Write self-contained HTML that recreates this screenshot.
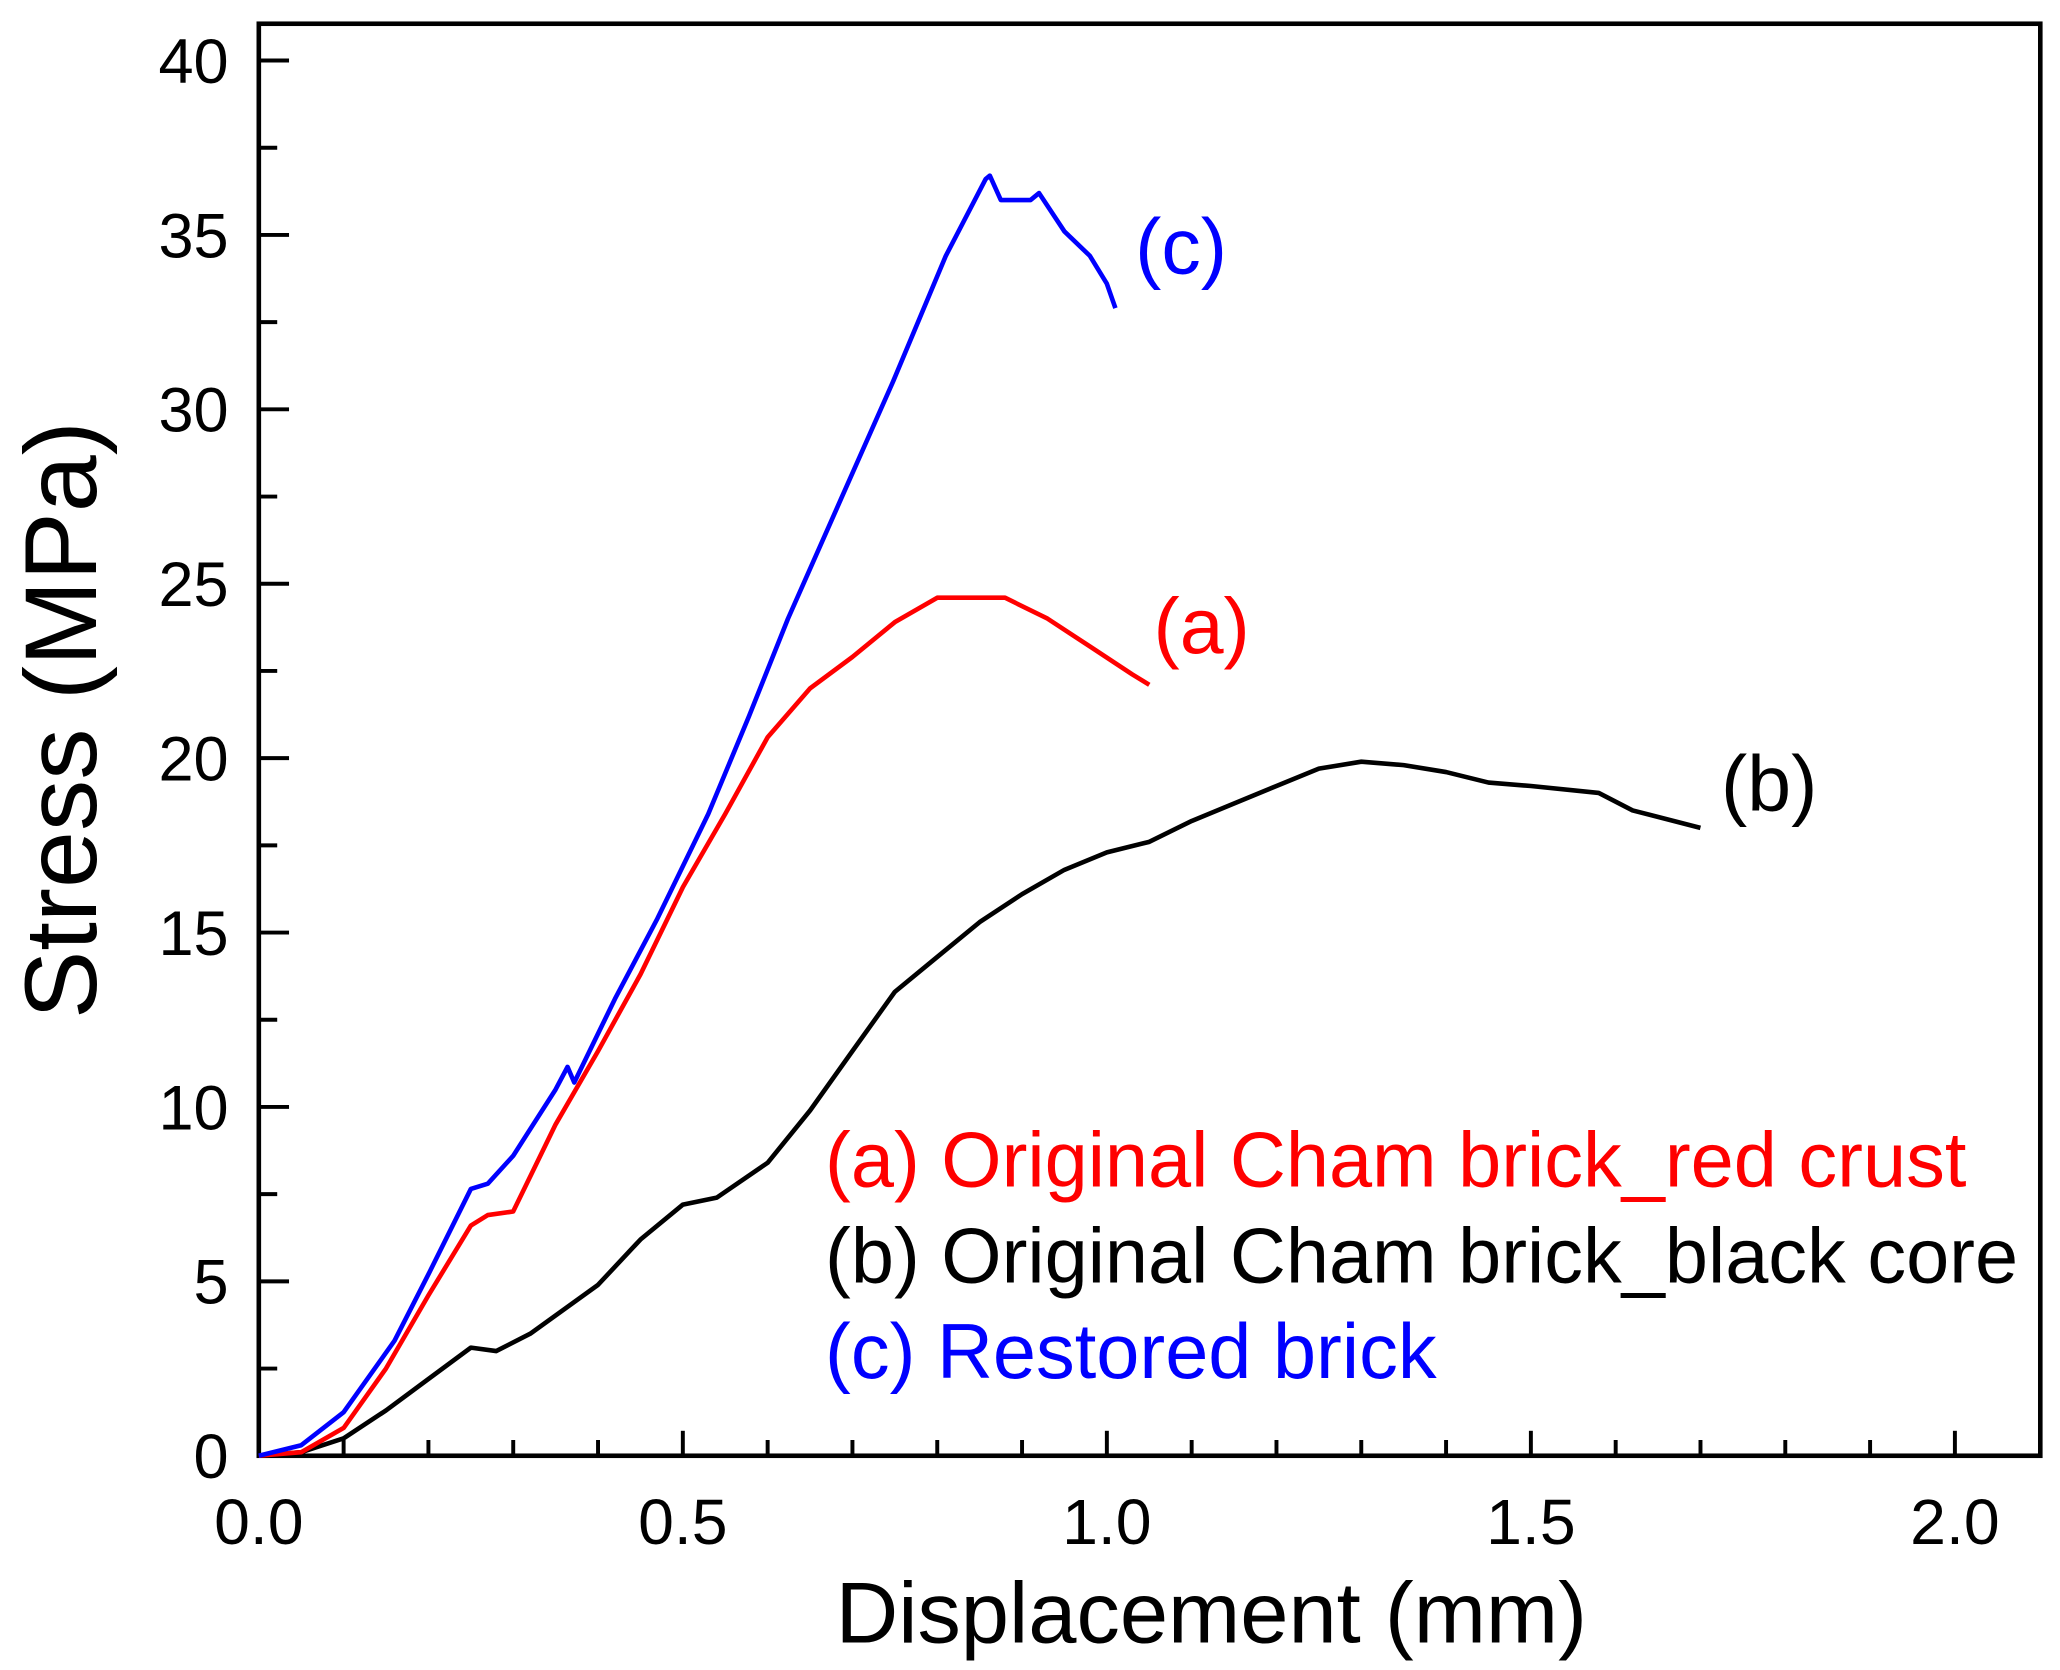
<!DOCTYPE html>
<html><head><meta charset="utf-8"><style>
html,body{margin:0;padding:0;background:#fff;}
svg{display:block;font-family:"Liberation Sans",Arial,sans-serif;}
</style></head><body>
<svg id="chart" width="2060" height="1670" viewBox="0 0 1568 1271" xmlns="http://www.w3.org/2000/svg">
<rect width="1568" height="1271" fill="#fff"/>
<g id="axes"></g>
<g id="series"></g>
<text x="922" y="1250" font-size="66" text-anchor="middle">Displacement (mm)</text>
<text transform="translate(73,548) rotate(-90)" font-size="78" text-anchor="middle">Stress (MPa)</text>
<text x="864" y="208" font-size="60" fill="#0000ff">(c)</text>
<text x="878" y="497" font-size="60" fill="#ff0000">(a)</text>
<text x="1310" y="617" font-size="60" fill="#000">(b)</text>
<text x="628" y="903" font-size="59" fill="#ff0000">(a) Original Cham brick_red crust</text>
<text x="628" y="976" font-size="59" fill="#000">(b) Original Cham brick_black core</text>
<text x="628" y="1049" font-size="59" fill="#0000ff">(c) Restored brick</text>
</svg>
<script>
const xTicks=[0,0.5,1.0,1.5,2.0];
const xTickLabels=["0.0","0.5","1.0","1.5","2.0"];
const yTicks=[0,5,10,15,20,25,30,35,40];
const yTickLabels=["0","5","10","15","20","25","30","35","40"];
const aX=[0,0.05,0.1,0.15,0.2,0.25,0.27,0.3,0.35,0.4,0.45,0.5,0.55,0.6,0.65,0.7,0.75,0.8,0.88,0.93,0.98,1.03,1.05];
const aY=[0,0.1,0.8,2.5,4.6,6.6,6.9,7.0,9.5,11.6,13.8,16.3,18.4,20.6,22,22.9,23.9,24.6,24.6,24,23.2,22.4,22.1];
const bX=[0,0.05,0.1,0.15,0.2,0.25,0.28,0.32,0.4,0.45,0.5,0.54,0.6,0.65,0.7,0.75,0.8,0.85,0.9,0.95,1.0,1.05,1.1,1.15,1.2,1.25,1.3,1.35,1.4,1.45,1.5,1.58,1.62,1.7];
const bY=[0,0.1,0.5,1.3,2.2,3.1,3.0,3.5,4.9,6.2,7.2,7.4,8.4,9.9,11.6,13.3,14.3,15.3,16.1,16.8,17.3,17.6,18.2,18.7,19.2,19.7,19.9,19.8,19.6,19.3,19.2,19.0,18.5,18.0];
const cX=[0,0.05,0.1,0.16,0.2,0.25,0.27,0.3,0.35,0.364,0.372,0.42,0.47,0.53,0.578,0.624,0.686,0.748,0.81,0.857,0.862,0.875,0.91,0.92,0.95,0.98,1.0,1.01];
const cY=[0,0.3,1.25,3.3,5.2,7.65,7.8,8.6,10.5,11.15,10.7,13.1,15.4,18.4,21.2,24,27.4,30.8,34.4,36.6,36.7,36.0,36.0,36.2,35.1,34.4,33.6,32.9];
const L=197,R=1553,T=18,B=1108;
const X0=197,XPER=(1488-197)/2, Y0=1108, YPER=(1108-46)/40;
const sx=v=>X0+v*XPER, sy=v=>Y0-v*YPER;
const NS="http://www.w3.org/2000/svg";
function mk(tag,attrs,parent){const e=document.createElementNS(NS,tag);for(const k in attrs)e.setAttribute(k,attrs[k]);parent.appendChild(e);return e;}
const ax=document.getElementById('axes');
const frame=mk('rect',{x:L,y:T,width:R-L,height:B-T,fill:'none',stroke:'#000','stroke-width':3.5},ax);


for(let i=0;i<=20;i++){const v=i*0.1;const x=sx(v);const major=i%5===0;
 const t=mk('line',{x1:x,x2:x,y1:B,y2:B-(major?19:12),stroke:'#000','stroke-width':3},ax);
 
 }
for(let i=0;i<=16;i++){const v=i*2.5;const y=sy(v);const major=i%2===0;
 const t=mk('line',{x1:L,x2:L+(major?23:14),y1:y,y2:y,stroke:'#000','stroke-width':3},ax);
 
 }
xTicks.forEach((v,i)=>{const t=mk('text',{x:sx(v),y:1175,'font-size':49,'text-anchor':'middle'},ax);t.textContent=xTickLabels[i];
 
 });
yTicks.forEach((v,i)=>{const t=mk('text',{x:174,y:sy(v)+17,'font-size':48,'text-anchor':'end'},ax);t.textContent=yTickLabels[i];
 
 });
const sg=document.getElementById('series');
function line(xs,ys,color,name){const d=xs.map((x,i)=>(i?'L':'M')+sx(x).toFixed(1)+','+sy(ys[i]).toFixed(1)).join('');
 const p=mk('path',{d:d,fill:'none',stroke:color,'stroke-width':3.5,'stroke-linejoin':'round'},sg);
 
 }
line(bX,bY,'#000','series-b-black-core');
line(aX,aY,'#ff0000','series-a-red-crust');
line(cX,cY,'#0000ff','series-c-restored-brick');
</script>
</body></html>
